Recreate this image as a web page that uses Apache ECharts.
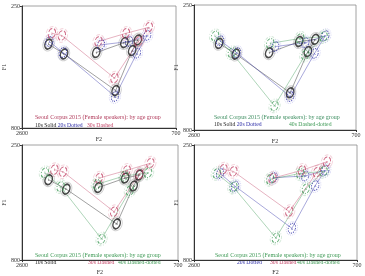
<!DOCTYPE html>
<html><head><meta charset="utf-8">
<script src="https://cdn.jsdelivr.net/npm/echarts@6/dist/echarts.min.js"></script>
<style>html,body{margin:0;padding:0;background:#fff}#c{width:365px;height:276px}</style>
</head><body><div id="c"></div>
<script>
// vowel order in every array: i, e, a, ʌ, o, ɨ, u   (each point = [F2, F1])
const vowels = ['i','e','a','ʌ','o','ɨ','u'];
// chains drawn as connecting lines (indices into the vowel order)
const chainOuter = [0,1,2,3,4];
const chainInner = [5,6,4];

// Panel 1: 10s, 20s, 30s
const p1_10s = [[2272,422],[2080,466],[1444,631],[1240,451],[1170,403],[1683,460],[1336,415]];
const p1_20s = [[2261,410],[2095,460],[1452,658],[1182,463],[1055,383],[1625,425],[1278,410]];
const p1_30s = [[2230,373],[2107,383],[1459,575],[1162,410],[1035,346],[1656,410],[1317,373]];
// Panel 2: 10s, 20s, 40s
const p2_10s = [[2306,419],[2110,466],[1472,636],[1264,455],[1178,401],[1718,460],[1366,411]];
const p2_20s = [[2294,407],[2098,460],[1472,653],[1186,463],[1060,385],[1648,433],[1295,416]];
const p2_40s = [[2353,386],[2157,460],[1656,694],[1295,470],[1080,389],[1707,419],[1354,397]];
// Panel 3: 10s, 30s, 40s
const p3_10s = [[2274,416],[2060,461],[1447,627],[1240,446],[1171,393],[1669,453],[1343,408]];
const p3_30s = [[2205,368],[2098,378],[1478,569],[1171,389],[1037,337],[1661,408],[1324,371]];
const p3_40s = [[2320,383],[2129,449],[1631,699],[1286,468],[1064,383],[1688,438],[1355,398]];
// Panel 4: 20s, 30s, 40s
const p4_20s = [[2296,386],[2121,447],[1459,648],[1187,444],[1070,371],[1673,406],[1304,398]];
const p4_30s = [[2257,365],[2141,376],[1490,568],[1167,380],[1051,330],[1685,409],[1343,371]];
const p4_40s = [[2335,386],[2141,451],[1646,694],[1296,459],[1090,376],[1712,414],[1362,386]];

const xTicks = [2600, 700];
const yTicks = [250, 800];
const titleText = 'Seoul Corpus 2015 (Female speakers): by age group';

const groupStyle = {
  '10s': {color:'#1c1c1c', halo:'rgba(60,60,60,0.3)', type:'solid', width:1.6, name:'10s Solid'},
  '20s': {color:'#2f2fa8', halo:'rgba(60,60,200,0.25)', type:'dotted', width:1.1, name:'20s Dotted'},
  '30s': {color:'#c4486a', halo:'rgba(210,90,120,0.3)', type:'dashed', width:1.1, name:'30s Dashed'},
  '40s': {color:'#3f9a56', halo:'rgba(80,160,100,0.3)', type:[3,1.5,1,1.5], width:1.1, name:'40s Dashed-dotted'}
};

// legend rows: each entry = [x, list of groups written one after another]
const panels = [
  {grid:{left:12, top:6, width:164, height:122}, groups:[['10s',p1_10s],['20s',p1_20s],['30s',p1_30s]],
   title:{x:35, y:117, color:'#b03a5a'}, legend:[[35,['10s','20s']],[87,['30s']]], ly:126},
  {grid:{left:194, top:5, width:162, height:125}, groups:[['10s',p2_10s],['20s',p2_20s],['40s',p2_40s]],
   title:{x:214, y:117, color:'#3f8f62'}, legend:[[214,['10s','20s']],[289,['40s']]], ly:125},
  {grid:{left:12, top:145, width:166, height:121}, groups:[['10s',p3_10s],['30s',p3_30s],['40s',p3_40s]],
   title:{x:35, y:255, color:'#3f9a56'}, legend:[[35,['10s']],[88,['30s']],[118,['40s']]], ly:263},
  {grid:{left:194, top:145, width:163, height:121}, groups:[['20s',p4_20s],['30s',p4_30s],['40s',p4_40s]],
   title:{x:215, y:255, color:'#3f9a56'}, legend:[[237,['20s']],[270,['30s']],[297,['40s']]], ly:263}
];

const font = '"Liberation Serif", "DejaVu Serif", serif';
const rich = {};
Object.keys(groupStyle).forEach(g => { rich['g' + g] = {fill:groupStyle[g].color, fontSize:5.7, fontFamily:font}; });

const grids = [], xAxes = [], yAxes = [], series = [], graphics = [];

panels.forEach((p, k) => {
  grids.push(Object.assign({show:true, borderColor:'#8a8a8a', borderWidth:0.8, containLabel:false}, p.grid));
  xAxes.push({gridIndex:k, type:'value', min:xTicks[1], max:xTicks[0], interval:xTicks[0]-xTicks[1], inverse:true,
    axisLine:{show:true, onZero:false, lineStyle:{color:'#333', width:1}},
    axisTick:{show:true, length:2, lineStyle:{color:'#333'}},
    splitLine:{show:false},
    axisLabel:{fontSize:6, fontFamily:font, color:'#333', margin:2, formatter:v => String(v)},
    name:'F2', nameLocation:'middle', nameGap:5, nameTextStyle:{fontSize:6, fontFamily:font, color:'#333'}});
  yAxes.push({gridIndex:k, type:'value', min:yTicks[0], max:yTicks[1], interval:yTicks[1]-yTicks[0], inverse:true,
    axisLine:{show:true, onZero:false, lineStyle:{color:'#333', width:1}},
    axisTick:{show:true, length:2, lineStyle:{color:'#333'}},
    splitLine:{show:false},
    axisLabel:{fontSize:6, fontFamily:font, color:'#333', margin:2, formatter:v => String(v)},
    name:'F1', nameLocation:'middle', nameGap:6, nameRotate:90, nameTextStyle:{fontSize:6, fontFamily:font, color:'#333'}});

  p.groups.forEach(([g, pts]) => {
    const st = groupStyle[g];
    [chainOuter, chainInner].forEach(ch => {
      series.push({type:'line', xAxisIndex:k, yAxisIndex:k, data:ch.map(i => pts[i]), symbol:'none', silent:true, z:2,
        lineStyle:{color:st.color, width:0.6, opacity:0.7}});
    });
    series.push({type:'scatter', xAxisIndex:k, yAxisIndex:k, data:pts, symbol:'circle', symbolSize:[11,14], symbolRotate:-20, silent:true, z:3,
      itemStyle:{color:'rgba(255,255,255,0)', borderColor:st.halo, borderWidth:1, borderType:st.type}});
    series.push({type:'scatter', xAxisIndex:k, yAxisIndex:k, data:pts.map((d,i)=>({value:d, name:vowels[i]})), symbol:'circle', symbolSize:[7,10], symbolRotate:-20, silent:true, z:4,
      itemStyle:{color:'rgba(255,255,255,0)', borderColor:st.color, borderWidth:st.width, borderType:st.type},
      label:{show:true, position:'inside', formatter:'{b}', fontSize:5, fontFamily:font, color:st.color}});
  });

  graphics.push({type:'text', x:p.title.x, y:p.title.y, style:{text:titleText, fill:p.title.color, fontSize:6, fontFamily:font, verticalAlign:'middle'}});
  p.legend.forEach(([x, gs]) => {
    graphics.push({type:'text', x:x, y:p.ly, style:{
      text: gs.map(g => '{g' + g + '|' + groupStyle[g].name + '}').join(' '),
      rich: rich, fontSize:5.7, fontFamily:font, verticalAlign:'middle'}});
  });
});

const chart = echarts.init(document.getElementById('c'), null, {renderer:'canvas'});
chart.setOption({animation:false, backgroundColor:'#fff', grid:grids, xAxis:xAxes, yAxis:yAxes, series:series, graphic:graphics});
</script></body></html>
